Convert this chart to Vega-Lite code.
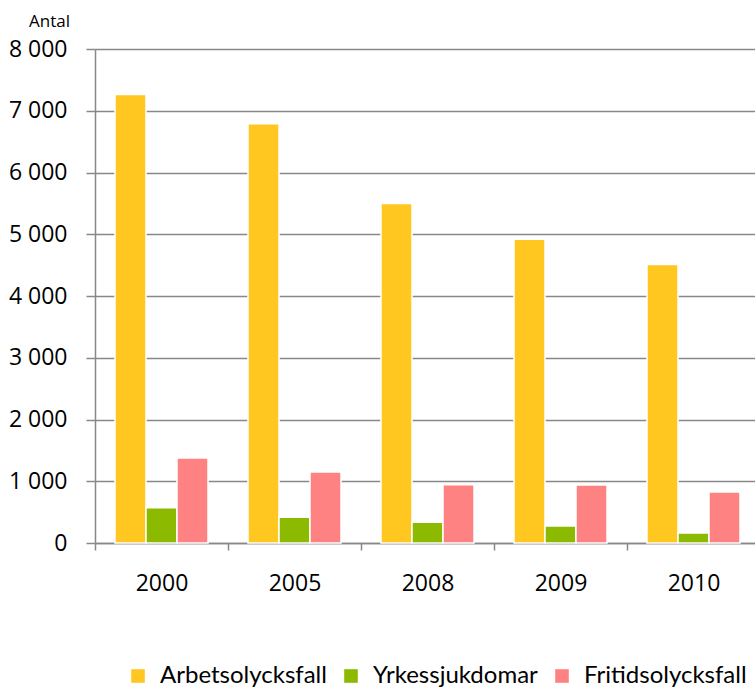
{
  "$schema": "https://vega.github.io/schema/vega-lite/v6.json",
  "autosize": "none",
  "width": 665,
  "height": 494,
  "padding": {"left": 95, "top": 49, "right": 0, "bottom": 146},
  "background": "white",
  "data": {
    "values": [
      {"year": "2000", "typ": "Arbetsolycksfall", "antal": 7265},
      {"year": "2000", "typ": "Yrkessjukdomar", "antal": 570},
      {"year": "2000", "typ": "Fritidsolycksfall", "antal": 1375},
      {"year": "2005", "typ": "Arbetsolycksfall", "antal": 6790},
      {"year": "2005", "typ": "Yrkessjukdomar", "antal": 415},
      {"year": "2005", "typ": "Fritidsolycksfall", "antal": 1150},
      {"year": "2008", "typ": "Arbetsolycksfall", "antal": 5500},
      {"year": "2008", "typ": "Yrkessjukdomar", "antal": 335},
      {"year": "2008", "typ": "Fritidsolycksfall", "antal": 943},
      {"year": "2009", "typ": "Arbetsolycksfall", "antal": 4920},
      {"year": "2009", "typ": "Yrkessjukdomar", "antal": 275},
      {"year": "2009", "typ": "Fritidsolycksfall", "antal": 938},
      {"year": "2010", "typ": "Arbetsolycksfall", "antal": 4510},
      {"year": "2010", "typ": "Yrkessjukdomar", "antal": 162},
      {"year": "2010", "typ": "Fritidsolycksfall", "antal": 825}
    ]
  },
  "mark": {"type": "bar", "stroke": "white", "strokeWidth": 1.5},
  "encoding": {
    "x": {
      "field": "year", "type": "nominal",
      "scale": {"paddingInner": 0, "paddingOuter": 0},
      "axis": {
        "title": null, "labelAngle": 0, "tickBand": "extent",
        "labelFont": "Open Sans", "labelFontSize": 23, "labelColor": "#000",
        "labelPadding": 22, "tickSize": 7, "tickColor": "#888", "tickWidth": 1.5,
        "domainColor": "#888", "domainWidth": 1.5, "grid": false
      }
    },
    "xOffset": {"field": "typ", "type": "nominal", "sort": ["Arbetsolycksfall", "Yrkessjukdomar", "Fritidsolycksfall"], "scale": {"paddingInner": 0, "paddingOuter": 0.645}},
    "y": {
      "field": "antal", "type": "quantitative",
      "scale": {"domain": [0, 8000], "nice": false},
      "axis": {
        "title": "Antal", "titleAngle": 0, "titleX": -46, "titleY": -19, "titleAlign": "center",
        "titleFont": "Open Sans", "titleFontSize": 17, "titleFontWeight": "normal", "titleColor": "#000",
        "values": [0, 1000, 2000, 3000, 4000, 5000, 6000, 7000, 8000],
        "labelExpr": "replace(format(datum.value, ','), ',', ' ')",
        "labelFont": "Open Sans", "labelFontSize": 23, "labelColor": "#000", "labelPadding": 19,
        "tickSize": 9, "tickColor": "#888", "tickWidth": 1.5,
        "domainColor": "#888", "domainWidth": 1.5,
        "grid": true, "gridColor": "#888", "gridWidth": 1.5
      }
    },
    "color": {
      "field": "typ", "type": "nominal",
      "sort": ["Arbetsolycksfall", "Yrkessjukdomar", "Fritidsolycksfall"],
      "scale": {"domain": ["Arbetsolycksfall", "Yrkessjukdomar", "Fritidsolycksfall"], "range": ["#FFC720", "#8BBA00", "#FF8282"]},
      "legend": {
        "title": null, "orient": "none", "direction": "horizontal",
        "legendX": 31, "legendY": 615,
        "symbolType": "square", "symbolSize": 185, "symbolStrokeWidth": 0,
        "labelFont": "Lato", "labelFontSize": 24, "labelColor": "#000", "labelLimit": 0,
        "columnPadding": 12, "labelOffset": 10
      }
    }
  },
  "config": {"view": {"stroke": null}}
}
